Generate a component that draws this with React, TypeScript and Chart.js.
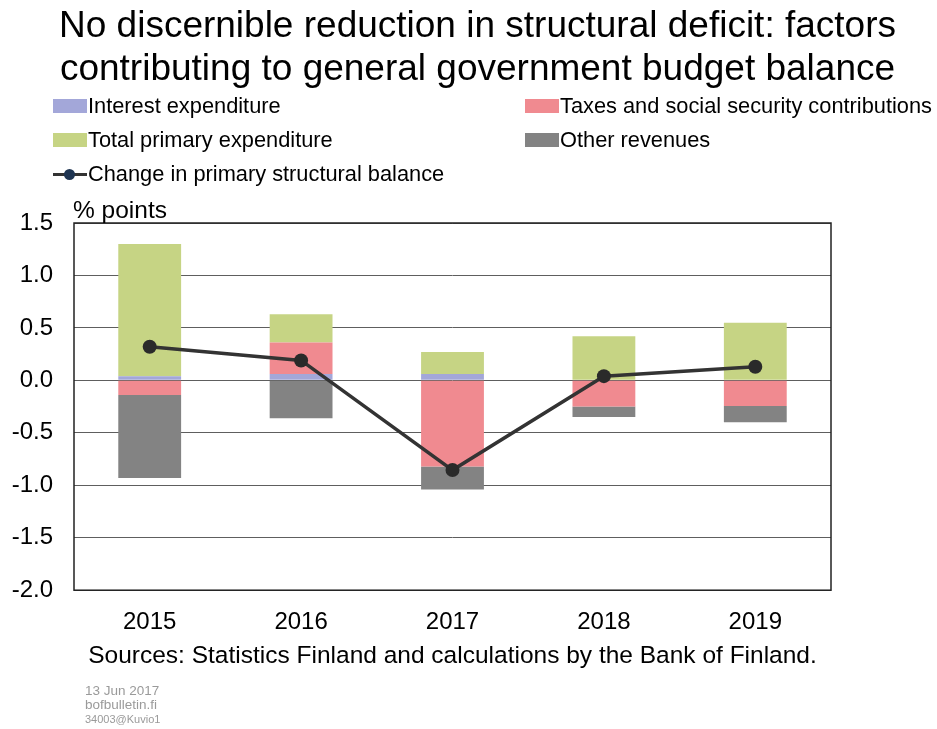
import React, { useEffect, useRef } from "react";
import { Chart, registerables } from "chart.js";

Chart.register(...registerables);

const years = ["2015", "2016", "2017", "2018", "2019"];
const interestExpenditure = [0.04, 0.06, 0.06, 0, 0];
const taxesAndContributions = [-0.14, 0.3, -0.82, -0.25, -0.245];
const totalPrimaryExpenditure = [1.26, 0.27, 0.21, 0.42, 0.55];
const otherRevenues = [-0.79, -0.36, -0.22, -0.1, -0.155];
const primaryStructuralBalanceChange = [0.32, 0.19, -0.855, 0.04, 0.13];
const yMin = -2.0;
const yMax = 1.5;
const yStep = 0.5;

const FONT = "'Liberation Sans', Arial, sans-serif";

const COLORS = {
  interest: "#a3a7d9",
  taxes: "#f08a90",
  primary: "#c6d484",
  other: "#838383",
  line: "#333333",
};

const frame = {
  id: "frame",
  beforeDatasetsDraw(chart: any) {
    const { ctx, chartArea } = chart;
    ctx.save();
    ctx.strokeStyle = "#222";
    ctx.lineWidth = 1.5;
    ctx.strokeRect(chartArea.left, chartArea.top, chartArea.right - chartArea.left, chartArea.bottom - chartArea.top);
    ctx.restore();
  },
};

export default function App() {
  const ref = useRef<HTMLCanvasElement>(null);
  useEffect(() => {
    document.body.style.margin = "0";
    const chart = new Chart(ref.current!, {
      type: "bar",
      data: {
        labels: years,
        datasets: [
          {
            type: "line",
            label: "Change in primary structural balance",
            data: primaryStructuralBalanceChange,
            borderColor: COLORS.line,
            backgroundColor: "#2a2a2a",
            borderWidth: 3.5,
            pointRadius: 7,
            pointBackgroundColor: "#2a2a2a",
            pointBorderWidth: 0,
            stack: "line",
            order: 0,
          } as any,
          { label: "Interest expenditure", data: interestExpenditure, backgroundColor: COLORS.interest, stack: "s", order: 1 },
          { label: "Taxes and social security contributions", data: taxesAndContributions, backgroundColor: COLORS.taxes, stack: "s", order: 1 },
          { label: "Total primary expenditure", data: totalPrimaryExpenditure, backgroundColor: COLORS.primary, stack: "s", order: 1 },
          { label: "Other revenues", data: otherRevenues, backgroundColor: COLORS.other, stack: "s", order: 1 },
        ],
      },
      options: {
        responsive: false,
        animation: false,
        devicePixelRatio: 1,
        layout: { padding: { left: 8, top: 223, right: 106, bottom: 74 } },
        datasets: { bar: { barPercentage: 0.415, categoryPercentage: 1 } } as any,
        plugins: { legend: { display: false }, tooltip: { enabled: false } },
        scales: {
          x: {
            stacked: true,
            grid: { display: false, drawTicks: false },
            border: { display: false },
            ticks: { color: "#000", font: { family: FONT, size: 24 }, padding: 18 },
          },
          y: {
            stacked: true,
            min: yMin,
            max: yMax,
            grid: { color: "#5e5e5e", lineWidth: 1, drawTicks: false },
            border: { display: false },
            afterFit: (scale: any) => {
              scale.width = 66;
            },
            ticks: {
              stepSize: yStep,
              color: "#000",
              padding: 21,
              font: { family: FONT, size: 24 },
              callback: (v: any) => Number(v).toFixed(1),
            },
          },
        },
      },
      plugins: [frame],
    });
    return () => chart.destroy();
  }, []);

  const sw = (color: string) => (
    <span style={{ display: "inline-block", width: 34, height: 14, background: color, marginRight: 1 }} />
  );
  const legendItem: React.CSSProperties = {
    position: "absolute",
    display: "flex",
    alignItems: "center",
    fontFamily: FONT,
    fontSize: 21.8,
    color: "#000",
    whiteSpace: "nowrap",
    height: 24,
  };

  return (
    <div style={{ position: "relative", width: 937, height: 729, background: "#fff", overflow: "hidden" }}>
      <canvas ref={ref} width={937} height={729} style={{ position: "absolute", left: 0, top: 0, display: "block" }} />
      <div
        style={{
          position: "absolute",
          left: 0,
          width: 955,
          top: 3,
          textAlign: "center",
          fontFamily: FONT,
          fontSize: 37,
          lineHeight: "43px",
          color: "#000",
          whiteSpace: "nowrap",
        }}
      >
        No discernible reduction in structural deficit: factors
        <br />
        contributing to general government budget balance
      </div>
      <div style={{ ...legendItem, left: 53, top: 94 }}>{sw(COLORS.interest)}Interest expenditure</div>
      <div style={{ ...legendItem, left: 525, top: 94 }}>{sw(COLORS.taxes)}Taxes and social security contributions</div>
      <div style={{ ...legendItem, left: 53, top: 128 }}>{sw(COLORS.primary)}Total primary expenditure</div>
      <div style={{ ...legendItem, left: 525, top: 128 }}>{sw(COLORS.other)}Other revenues</div>
      <div style={{ ...legendItem, left: 53, top: 162 }}>
        <span style={{ position: "relative", display: "inline-block", width: 34, height: 14, marginRight: 1 }}>
          <span style={{ position: "absolute", left: 0, right: 0, top: 6, height: 3, background: "#333" }} />
          <span
            style={{ position: "absolute", left: 11, top: 2, width: 11, height: 11, borderRadius: "50%", background: "#1f3552" }}
          />
        </span>
        Change in primary structural balance
      </div>
      <div style={{ position: "absolute", left: 73, top: 196, fontFamily: FONT, fontSize: 24.5, color: "#000" }}>% points</div>
      <div
        style={{
          position: "absolute",
          left: 74,
          width: 757,
          top: 641,
          textAlign: "center",
          fontFamily: FONT,
          fontSize: 24.5,
          color: "#000",
          whiteSpace: "nowrap",
        }}
      >
        Sources: Statistics Finland and calculations by the Bank of Finland.
      </div>
      <div style={{ position: "absolute", left: 85, top: 684, fontFamily: FONT, color: "#9a9a9a", lineHeight: "14px" }}>
        <div style={{ fontSize: 13.5 }}>13 Jun 2017</div>
        <div style={{ fontSize: 13.5 }}>bofbulletin.fi</div>
        <div style={{ fontSize: 11 }}>34003@Kuvio1</div>
      </div>
    </div>
  );
}
